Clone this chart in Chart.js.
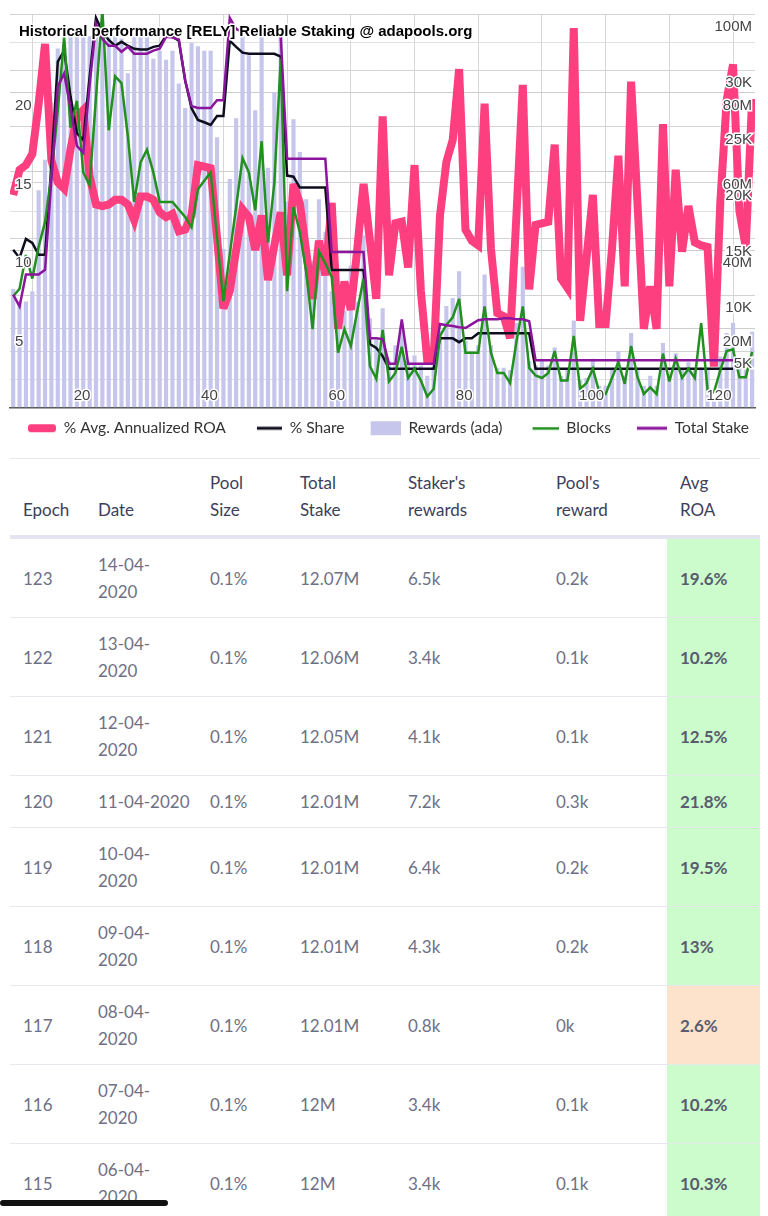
<!DOCTYPE html>
<html>
<head>
<meta charset="utf-8">
<script src="https://cdn.jsdelivr.net/npm/chart.js@4.4.0/dist/chart.umd.min.js"></script>
<style>
  html, body { margin: 0; padding: 0; background: #fff; }
  body { width: 768px; height: 1216px; overflow: hidden; position: relative; font-family: Lato, "Open Sans", sans-serif; }
  #chartBox { position: absolute; left: 0; top: 0; width: 768px; height: 446px; }
  #tbl { position: absolute; left: 10px; top: 458px; width: 750px; font-size: 17px; line-height: 27px; }
  .row { display: grid; grid-template-columns: 75px 112px 90px 108px 148px 124px 93px; box-sizing: border-box; border-bottom: 1px solid #e7e7ee; }
  .row > div { display: flex; align-items: center; padding-left: 13px; white-space: nowrap; }
  .head { height: 81px; border-top: 1px solid #e7e7ee; border-bottom: 4px solid #e4e4f1; color: #3c3e5a; }
  .head > div { align-items: flex-end; padding-bottom: 12px; }
  .body { height: 79px; color: #6f7085; }
  .body.one { height: 52px; }
  .roa { font-weight: 700; color: #585c6e; }
  .good { background: #ccfbcc; }
  .low { background: #fde3cc; }
  #scroll { position: absolute; left: 0; top: 1200px; width: 168px; height: 6px; border-radius: 3px; background: #111; }
</style>
</head>
<body>
<div id="chartBox"><canvas id="perf"></canvas></div>
<div id="tbl"></div>
<div id="scroll"></div>
<script>
// chart data, epoch 7 .. 123
const TITLE = 'Historical performance [RELY] Reliable Staking @ adapools.org';

const epochs = [
  7, 8, 9, 10, 11, 12, 13, 14, 15, 16,
  17, 18, 19, 20, 21, 22, 23, 24, 25, 26,
  27, 28, 29, 30, 31, 32, 33, 34, 35, 36,
  37, 38, 39, 40, 41, 42, 43, 44, 45, 46,
  47, 48, 49, 50, 51, 52, 53, 54, 55, 56,
  57, 58, 59, 60, 61, 62, 63, 64, 65, 66,
  67, 68, 69, 70, 71, 72, 73, 74, 75, 76,
  77, 78, 79, 80, 81, 82, 83, 84, 85, 86,
  87, 88, 89, 90, 91, 92, 93, 94, 95, 96,
  97, 98, 99, 100, 101, 102, 103, 104, 105, 106,
  107, 108, 109, 110, 111, 112, 113, 114, 115, 116,
  117, 118, 119, 120, 121, 122, 123
];

// % avg annualized ROA
const roa = [
  13.5, 15.1, 15.4, 16.1, 19.3, 23.1, 15.7, 14.3, 13.9, 16.4,
  18.5, 18.9, 14.7, 12.9, 12.8, 12.9, 13.2, 13.2, 12.9, 11.9,
  13.4, 13.4, 13.2, 12.4, 12.1, 12.3, 11.2, 11.3, 12.2, 15.4,
  15.3, 15.2, 10.8, 6.3, 7.4, 10.0, 12.6, 12.1, 10.0, 12.2,
  8.1, 10.3, 12.4, 8.4, 14.2, 13.0, 9.9, 6.9, 10.6, 8.4,
  13.0, 5.0, 8.0, 6.2, 10.0, 14.2, 10.6, 6.9, 18.5, 8.4,
  11.7, 11.8, 8.9, 15.4, 7.4, 3.0, 3.0, 12.2, 15.6, 17.0,
  21.5, 11.3, 10.6, 10.3, 19.3, 10.1, 6.0, 5.8, 4.4, 12.2,
  20.5, 7.5, 11.6, 11.7, 11.8, 16.7, 8.2, 7.6, 24.1, 5.5,
  9.5, 13.5, 5.3, 5.3, 10.1, 16.0, 7.7, 20.7, 13.0, 5.0,
  7.7, 5.0, 18.0, 7.7, 15.1, 9.9, 12.8, 10.5, 10.3, 10.2,
  2.6, 13.0, 19.5, 21.8, 12.5, 10.2, 19.6
];

// % share of total stake
const share = [
  0.408, 0.387, 0.436, 0.426, 0.395, 0.395, 0.626, 0.895, 0.923, 0.805,
  0.710, 0.692, 0.856, 1.008, 0.972, 0.951, 0.936, 0.946, 0.936, 0.928,
  0.926, 0.926, 0.933, 0.936, 0.962, 0.959, 0.949, 0.846, 0.774, 0.744,
  0.738, 0.731, 0.754, 0.754, 0.949, 0.933, 0.918, 0.915, 0.915, 0.915,
  0.915, 0.915, 0.908, 0.600, 0.597, 0.569, 0.569, 0.569, 0.569, 0.569,
  0.356, 0.356, 0.356, 0.356, 0.356, 0.356, 0.164, 0.154, 0.133, 0.100,
  0.100, 0.100, 0.100, 0.100, 0.100, 0.100, 0.100, 0.179, 0.179, 0.179,
  0.169, 0.179, 0.179, 0.192, 0.192, 0.192, 0.192, 0.192, 0.192, 0.192,
  0.192, 0.192, 0.100, 0.100, 0.100, 0.100, 0.100, 0.100, 0.100, 0.100,
  0.100, 0.100, 0.100, 0.100, 0.100, 0.100, 0.100, 0.100, 0.100, 0.100,
  0.100, 0.100, 0.100, 0.100, 0.100, 0.100, 0.100, 0.100, 0.100, 0.100,
  0.100, 0.100, 0.100, 0.100, null, null, null
];

// rewards, thousand ada
const rewards = [
  10.5, 9.4, 9.4, 10.3, 19.3, 22.0, 27.1, 31.9, 32.4, 33.0,
  33.0, 33.0, 33.0, 33.0, 33.0, 33.0, 33.0, 32.8, 29.7, 33.0,
  33.0, 33.0, 31.0, 31.7, 30.9, 31.7, 28.8, 26.6, 32.4, 32.1,
  31.7, 31.7, 24.0, 14.1, 20.3, 25.7, 33.0, 31.3, 26.4, 33.0,
  21.3, 28.0, 33.0, 18.3, 25.6, 22.7, 18.5, 13.0, 18.5, 15.6,
  10.3, 9.4, 8.6, 12.6, 9.4, 15.3, 7.9, 6.0, 8.8, 4.1,
  5.5, 6.8, 4.1, 4.6, 3.7, 2.8, 3.7, 6.8, 9.0, 9.7,
  12.1, 5.9, 5.0, 5.5, 11.8, 5.5, 3.5, 3.5, 3.3, 7.5,
  12.5, 4.1, 3.7, 4.1, 3.7, 5.3, 2.8, 3.3, 7.7, 2.4,
  2.6, 4.3, 1.9, 1.9, 3.4, 5.0, 2.8, 6.6, 3.3, 1.9,
  2.8, 1.9, 5.7, 2.8, 4.8, 3.4, 4.0, 3.4, 3.5, 3.5,
  0.8, 4.5, 6.6, 7.5, 4.2, 3.5, 6.7
];

// blocks produced
const blocks = [
  19.9, 20.8, 24.8, 22.0, 25.8, 28.7, 34.3, 41.9, 50.7, 39.9,
  43.1, 34.6, 33.1, 43.5, 54.0, 39.6, 46.0, 45.2, 38.9, 31.1,
  35.8, 37.3, 34.6, 31.1, 31.1, 31.1, 30.2, 29.3, 28.1, 32.6,
  33.6, 34.6, 26.9, 19.3, 24.9, 30.5, 36.3, 34.6, 30.1, 38.3,
  26.3, 33.4, 48.1, 20.5, 30.5, 27.5, 22.8, 16.0, 25.2, 23.8,
  22.2, 13.2, 16.0, 14.0, 18.1, 22.0, 11.6, 10.1, 15.9, 9.8,
  10.8, 13.9, 10.2, 11.3, 9.9, 8.0, 8.9, 15.2, 16.5, 17.4,
  19.6, 13.2, 13.2, 13.2, 18.7, 13.2, 10.8, 10.8, 9.6, 14.5,
  18.7, 11.4, 10.5, 10.2, 10.8, 13.4, 9.9, 9.9, 15.2, 8.9,
  9.6, 11.3, 8.5, 8.3, 10.2, 12.1, 9.5, 14.0, 10.3, 8.3,
  9.1, 8.3, 13.1, 9.8, 12.5, 10.2, 11.3, 10.2, 16.7, 8.8,
  8.5, 11.1, 13.4, 13.6, 10.3, 10.3, 13.3
];

// total stake, million ada
const stake = [
  28.7, 25.7, 33.8, 33.8, 33.8, 35.0, 57.9, 81.6, 84.9, 76.1,
  66.5, 64.7, 81.9, 97.5, 93.7, 91.9, 91.9, 90.4, 91.7, 89.9,
  89.9, 89.9, 90.7, 91.2, 94.2, 94.0, 93.5, 83.1, 76.6, 76.1,
  76.1, 76.1, 78.1, 78.1, 99.0, 96.2, 95.5, 95.0, 95.0, 95.0,
  95.0, 95.0, 94.2, 63.2, 63.2, 63.2, 63.2, 63.2, 63.2, 63.2,
  39.5, 39.5, 39.5, 39.5, 39.5, 39.5, 17.6, 17.6, 17.4, 11.1,
  11.1, 22.4, 11.1, 11.1, 11.1, 11.1, 11.1, 21.2, 20.9, 20.7,
  20.4, 20.2, 21.2, 22.2, 22.4, 22.4, 22.4, 22.7, 22.7, 22.4,
  22.4, 21.9, 12.0, 12.0, 12.0, 12.0, 12.0, 12.0, 12.0, 12.0,
  12.0, 12.0, 12.0, 12.0, 12.0, 12.0, 12.0, 12.0, 12.0, 12.0,
  12.0, 12.0, 12.0, 12.0, 12.0, 12.0, 12.0, 12.0, 12.0, 12.0,
  12.0, 12.0, 12.0, 12.0, null, null, null
];

const xTicks = [10, 20, 30, 40, 50, 60, 70, 80, 90, 100, 110, 120];

// table rows
const tblEpoch  = [123, 122, 121, 120, 119, 118, 117, 116, 115];
const tblDate   = ['14-04-2020', '13-04-2020', '12-04-2020', '11-04-2020', '10-04-2020', '09-04-2020', '08-04-2020', '07-04-2020', '06-04-2020'];
const tblSize   = ['0.1%', '0.1%', '0.1%', '0.1%', '0.1%', '0.1%', '0.1%', '0.1%', '0.1%'];
const tblStake  = ['12.07M', '12.06M', '12.05M', '12.01M', '12.01M', '12.01M', '12.01M', '12M', '12M'];
const tblStaker = ['6.5k', '3.4k', '4.1k', '7.2k', '6.4k', '4.3k', '0.8k', '3.4k', '3.4k'];
const tblPool   = ['0.2k', '0.1k', '0.1k', '0.3k', '0.2k', '0.2k', '0k', '0.1k', '0.1k'];
const tblRoa    = [19.6, 10.2, 12.5, 21.8, 19.5, 13, 2.6, 10.2, 10.3];
const oneLineDates = [120];

const PINK = '#fd3f7f';
const BLACK = '#0e0e1e';
const BAR = '#c6c6ec';
const GREEN = '#22901f';
const PURPLE = '#8b159c';
const AXIS_FONT = 'Arial, "Liberation Sans", sans-serif';

/* ── table ── */
function buildTable() {
  const box = document.getElementById('tbl');
  let html = '<div class="row head"><div>Epoch</div><div>Date</div><div>Pool<br>Size</div>' +
    '<div>Total<br>Stake</div><div>Staker\'s<br>rewards</div><div>Pool\'s<br>reward</div><div>Avg<br>ROA</div></div>';
  tblEpoch.forEach((ep, i) => {
    const one = oneLineDates.includes(ep);
    const d = tblDate[i];
    const date = one ? d : d.slice(0, 6) + '<br>' + d.slice(6);
    const cls = tblRoa[i] < 5 ? 'low' : 'good';
    html += `<div class="row body${one ? ' one' : ''}"><div>${ep}</div><div>${date}</div><div>${tblSize[i]}</div>` +
      `<div>${tblStake[i]}</div><div>${tblStaker[i]}</div><div>${tblPool[i]}</div>` +
      `<div class="roa ${cls}">${tblRoa[i]}%</div></div>`;
  });
  box.innerHTML = html;
}
buildTable();

/* ── legend swatches (right aligned inside the legend box) ── */
const SW = 52;
function swatch(draw) {
  const c = document.createElement('canvas');
  c.width = SW; c.height = 16;
  draw(c.getContext('2d'));
  return c;
}
const swRoa = swatch(g => { g.fillStyle = PINK; g.beginPath(); g.roundRect(SW - 28, 4, 28, 8, 3); g.fill(); });
const swShare = swatch(g => { g.fillStyle = BLACK; g.fillRect(SW - 25, 6.5, 25, 3); });
const swRewards = swatch(g => { g.fillStyle = BAR; g.fillRect(SW - 30, 1, 30, 14); });
const swBlocks = swatch(g => { g.fillStyle = GREEN; g.fillRect(SW - 26, 7, 26, 2.5); });
const swStake = swatch(g => { g.fillStyle = PURPLE; g.fillRect(SW - 30, 6.5, 30, 3); });

const legendOrder = [
  { text: '% Avg. Annualized ROA', ds: 3, img: swRoa },
  { text: '% Share', ds: 2, img: swShare },
  { text: 'Rewards (ada)', ds: 4, img: swRewards },
  { text: 'Blocks', ds: 1, img: swBlocks },
  { text: 'Total Stake', ds: 0, img: swStake }
];

/* ── title drawn over the plot, google-chart style ── */
const overlayTitle = {
  id: 'overlayTitle',
  beforeDatasetsDraw(chart) { chart.ctx.miterLimit = 4; },
  afterDraw(chart) {
    const { ctx, chartArea } = chart;
    ctx.save();
    ctx.font = 'bold 15px ' + AXIS_FONT;
    ctx.textBaseline = 'alphabetic';
    ctx.lineJoin = 'round';
    ctx.strokeStyle = '#fff';
    ctx.lineWidth = 3;
    ctx.strokeText(TITLE, chartArea.left + 9, chartArea.top + 22);
    ctx.fillStyle = '#000';
    ctx.fillText(TITLE, chartArea.left + 9, chartArea.top + 22);
    ctx.restore();
  }
};

const tickBase = { font: { family: AXIS_FONT, size: 15 }, color: '#444', textStrokeColor: '#fff', textStrokeWidth: 3, z: 1 };
const fixWidth = w => s => { s.width = w; };

new Chart(document.getElementById('perf'), {
  type: 'bar',
  data: {
    labels: epochs,
    datasets: [
      { type: 'line', label: 'Total Stake', data: stake, yAxisID: 'yStake', borderColor: PURPLE, borderWidth: 2.5, pointRadius: 0, tension: 0, order: 0 },
      { type: 'line', label: 'Blocks', data: blocks, yAxisID: 'yBlocks', borderColor: GREEN, borderWidth: 2.5, pointRadius: 0, tension: 0, order: 1 },
      { type: 'line', label: '% Share', data: share, yAxisID: 'yShare', borderColor: BLACK, borderWidth: 2.5, pointRadius: 0, tension: 0, order: 2 },
      { type: 'line', label: '% Avg. Annualized ROA', data: roa, yAxisID: 'yRoa', borderColor: PINK, borderWidth: 8, pointRadius: 0, tension: 0, order: 3 },
      { type: 'bar', label: 'Rewards (ada)', data: rewards, yAxisID: 'yRewards', backgroundColor: BAR, borderWidth: 0, barThickness: 3.5, order: 4 }
    ]
  },
  options: {
    responsive: true,
    maintainAspectRatio: false,
    animation: false,
    devicePixelRatio: 1,
    layout: { padding: { left: 0, right: 0, top: 10, bottom: 0 } },
    plugins: {
      tooltip: { enabled: false },
      legend: {
        position: 'bottom',
        align: 'start',
        title: { display: true, text: ' ', padding: 0, font: { size: 8.9, lineHeight: 1 } },
        labels: {
          usePointStyle: true,
          pointStyleWidth: SW,
          padding: 4,
          color: '#333',
          font: { family: 'Lato, "Open Sans", sans-serif', size: 15.6 },
          generateLabels: () => legendOrder.map(it => ({
            text: it.text, pointStyle: it.img, datasetIndex: it.ds,
            fillStyle: 'transparent', strokeStyle: 'transparent', lineWidth: 0, hidden: false, fontColor: '#333'
          }))
        }
      }
    },
    scales: {
      x: {
        type: 'linear', min: 6.5, max: 123.45, offset: false,
        afterBuildTicks: s => { s.ticks = xTicks.map(v => ({ value: v })); },
        afterFit: s => { s.height = 0; },
        grid: { color: '#d6d6d6', drawTicks: false, offset: false },
        border: { display: true, color: '#555', width: 1.5 },
        ticks: { ...tickBase, mirror: true, padding: 2.5, labelOffset: -14,
                 autoSkip: false, maxRotation: 0, callback: v => (v % 20 === 0 ? v : '') }
      },
      yRoa: {
        position: 'left', weight: 1, min: 0, max: 25,
        afterFit: fixWidth(10),
        grid: { color: '#cdcdcd', drawTicks: false },
        border: { display: false },
        ticks: { ...tickBase, stepSize: 5, mirror: true, padding: 5, labelOffset: 13, callback: v => (v > 0 && v < 25 ? v : '') }
      },
      yShare: { position: 'left', display: false, min: 0, max: 1.018 },
      yBlocks: {
        position: 'left', weight: 0, min: 6.7, max: 53.4,
        afterFit: fixWidth(0),
        grid: { color: '#e0e0e0', drawTicks: false },
        border: { display: false },
        ticks: { display: false, stepSize: 10 }
      },
      yStake: {
        position: 'right', weight: 0, min: 0, max: 100,
        afterFit: fixWidth(13),
        grid: { display: false, drawTicks: false },
        border: { display: false },
        ticks: { ...tickBase, stepSize: 20, mirror: true, padding: -3, labelOffset: 13, callback: v => (v > 0 ? v + 'M' : '') }
      },
      yRewards: {
        position: 'right', weight: 1, min: 0, max: 35,
        afterFit: fixWidth(0),
        grid: { color: '#d3d3d3', drawTicks: false },
        border: { display: false },
        ticks: { ...tickBase, stepSize: 5, mirror: true, padding: -16, labelOffset: 13, callback: v => (v > 0 && v < 35 ? v + 'K' : '') }
      }
    }
  },
  plugins: [overlayTitle]
});
</script>
</body>
</html>
